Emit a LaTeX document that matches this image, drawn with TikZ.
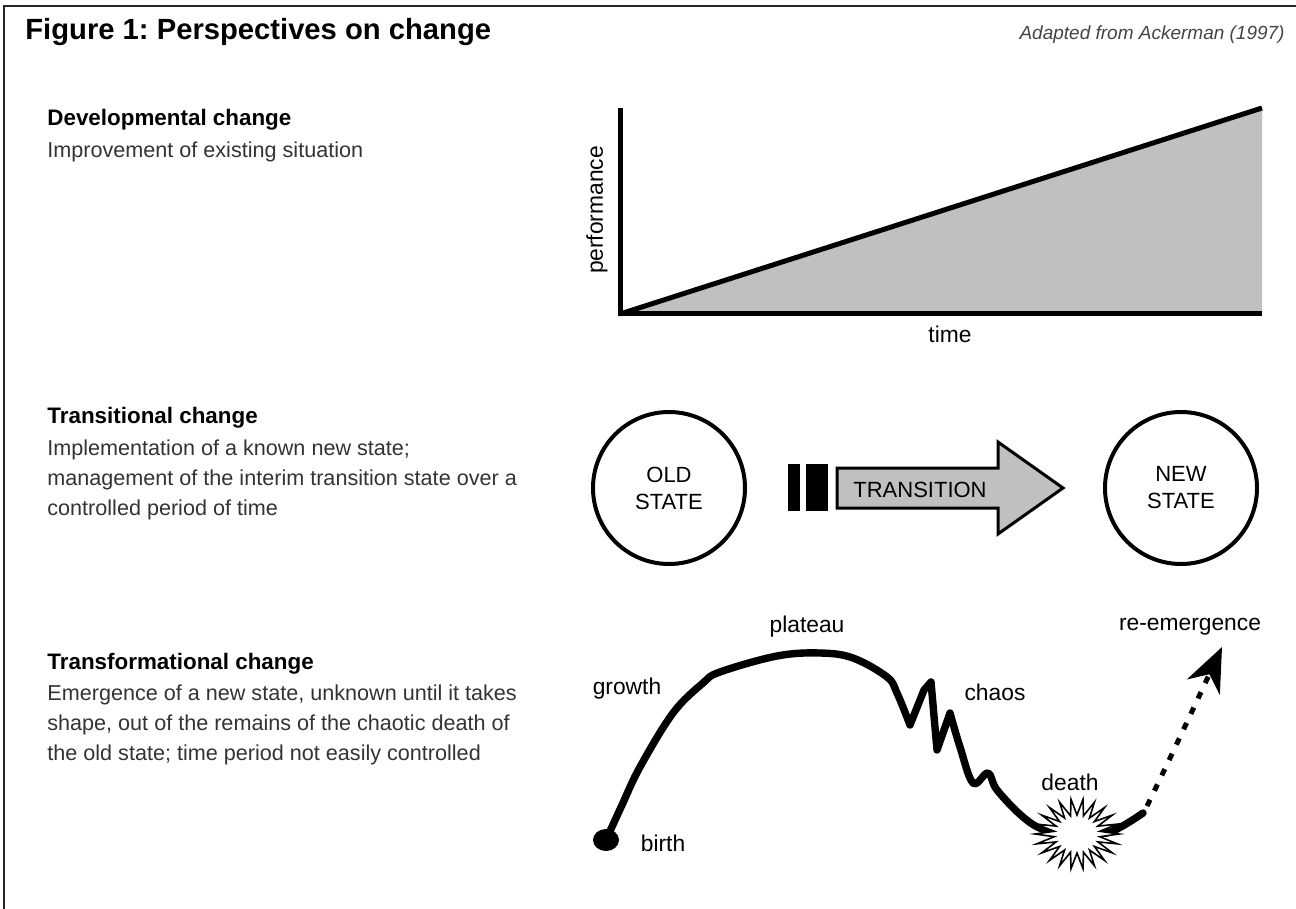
\documentclass[tikz,border=0pt]{standalone}
\usepackage{fontspec}
\setmainfont{Liberation Sans}
\usetikzlibrary{arrows.meta,positioning,shapes.geometric}
\frenchspacing

\definecolor{bodygray}{HTML}{333333}
\definecolor{creditgray}{HTML}{444444}
\definecolor{fillgray}{HTML}{C0C0C0}

\tikzset{
  heading/.style={anchor=base west, inner sep=0pt, font=\fontsize{11.2}{13}\selectfont\bfseries},
  bodytext/.style={anchor=north west, inner sep=0pt, text=bodygray, align=left, font=\fontsize{10.8}{15}\selectfont},
  curvelabel/.style={inner sep=0pt, font=\fontsize{11.4}{13}\selectfont},
  statecircle/.style={draw, circle, line width=2pt, minimum size=76pt, inner sep=0pt, align=center, font=\fontsize{11}{13.5}\selectfont},
  axisline/.style={line width=2.5pt},
  lifeline/.style={line width=3.7pt, line cap=round, line join=round},
}

\begin{document}
\begin{tikzpicture}[x=0.5pt, y=-0.5pt]
  \useasboundingbox (0,0) rectangle (1296,909);
  % frame
  \draw[line width=1pt, black!85] (4,909) -- (4,6) -- (1296,6);

  % title and credit
  \node[anchor=base west, inner sep=0pt, font=\fontsize{14.6}{17}\selectfont\bfseries] (title) at (25,40) {Figure 1: Perspectives on change};
  \node[anchor=base east, inner sep=0pt, text=creditgray, font=\fontsize{9.5}{11}\selectfont\itshape] (credit) at (1285,40) {Adapted from Ackerman (1997)};

  % left column
  \node[heading] (devhead) at (47,126) {Developmental change};
  \node[bodytext] (devtext) at (47,141) {Improvement of existing situation};
  \node[heading] (tranhead) at (47,423) {Transitional change};
  \node[bodytext] (trantext) at (47,439) {Implementation of a known new state;\\management of the interim transition state over a\\controlled period of time};
  \node[heading] (formhead) at (47,669) {Transformational change};
  \node[bodytext] (formtext) at (47,684) {Emergence of a new state, unknown until it takes\\shape, out of the remains of the chaotic death of\\the old state; time period not easily controlled};

  % developmental: performance over time
  \fill[fillgray] (620,314) -- (1262,108) -- (1262,314) -- cycle;
  \draw[axisline] (620,108) -- (620,314) -- (1262,314);
  \draw[axisline] (620,314) -- (1262,108);
  \node[curvelabel, rotate=90] (perf) at (597,210) {performance};
  \node[curvelabel] (time) at (950,334) {time};

  % transitional: old state -> new state
  \node[statecircle] (old) at (669,488) {OLD\\STATE};
  \node[statecircle] (new) at (1181,488) {NEW\\STATE};
  \fill (788,464) rectangle (800,511);
  \fill (806,464) rectangle (828,511);
  \draw[line width=1.5pt, fill=fillgray] (837,468) -- (998,468) -- (998,442) -- (1063,488)
    -- (998,534) -- (998,508) -- (837,508) -- cycle;
  \node[inner sep=0pt, font=\fontsize{11}{13}\selectfont] (transition) at (920,490) {TRANSITION};

  % transformational: life cycle
  \node[fill, ellipse, minimum width=13pt, minimum height=11pt, inner sep=0pt] (birth) at (606,840) {};
  \draw[lifeline] plot[smooth, tension=0.6] coordinates {(birth.center) (622,805) (640,767) (673,713)
      (703,683) (720,672) (777,656) (820,653) (853,658) (887,677) (897,693) (910,725)}
    -- (924,690) -- (931,682) -- (937,750)
    -- plot[smooth, tension=0.6] coordinates {(950,713) (960,747) (973,783) (988,773) (997,790)
      (1023,817) (1045,830) (1077,834) (1110,832) (1143,813)};
  % death burst
  \draw[line width=0.8pt, fill=white] plot[samples at={0,...,43}, variable=\k]
    ({1077+(isodd(\k) ? 23 : 42)*cos(\k*360/44)}, {834+(isodd(\k) ? 19 : 35)*sin(\k*360/44)}) -- cycle;
  \coordinate (rebirth) at (1147,806);
  \coordinate (future) at (1222,647);
  \draw[line width=2.5pt, dash pattern=on 3.5pt off 5pt, -{Stealth[length=22pt, width=18pt, inset=7pt]}]
    (rebirth) .. controls (1168,763) and (1195,705) .. (future);

  \node[curvelabel] (growth) at (627,689) {growth};
  \node[curvelabel] (plateau) at (807,627) {plateau};
  \node[curvelabel] (chaos) at (995,692) {chaos};
  \node[curvelabel] (death) at (1070,782) {death};
  \node[curvelabel] (reemerge) at (1190,627) {re-emergence};
  \node[curvelabel] (birthlabel) at (663,843) {birth};
\end{tikzpicture}
\end{document}
